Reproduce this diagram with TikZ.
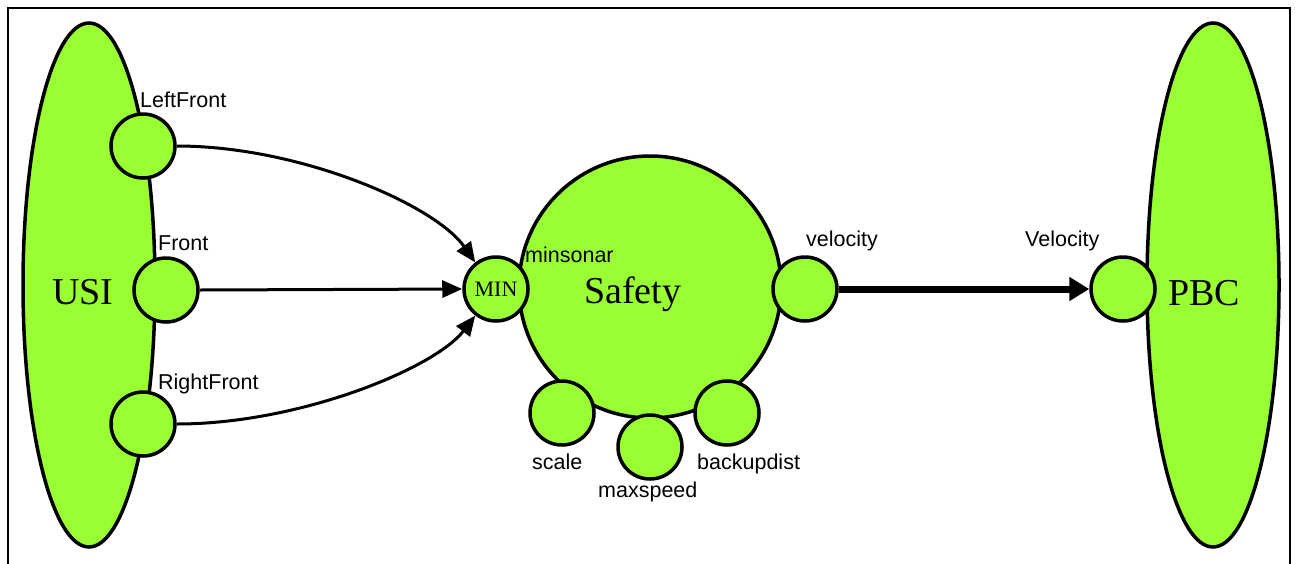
\documentclass[tikz,border=0pt]{standalone}
\usepackage{fontspec}
\setmainfont{Liberation Serif}
\setsansfont{Liberation Sans}
\usetikzlibrary{shapes.geometric,arrows.meta}
\definecolor{limefill}{HTML}{99FF33}
\begin{document}
\begin{tikzpicture}[x=1pt,y=-1pt,
  blob/.style={ellipse,draw,line width=3.5pt,fill=limefill,minimum width=132pt,minimum height=524pt,inner sep=0pt},
  port/.style={circle,draw,line width=3.5pt,fill=limefill,minimum size=64pt,inner sep=0pt},
  portlabel/.style={anchor=base west,inner sep=0pt,font=\sffamily\fontsize{21.5}{21.5}\selectfont},
  title/.style={anchor=base west,inner sep=0pt,font=\fontsize{38}{38}\selectfont},
  conn/.style={line width=3pt,-{Triangle[length=20pt,width=17pt]}},
  bus/.style={line width=7pt,-{Triangle[length=20pt,width=23pt]}}]
\useasboundingbox (0,0) rectangle (1297,563);
\fill[white] (0,0) rectangle (1297,563);
% frame
\draw[line width=2pt] (8,570) -- (8,8) -- (1290,8) -- (1290,570);

% components
\node[blob] (usi) at (89,285) {};
\node[blob] (pbc) at (1213,285) {};
\node[circle,draw,line width=3.5pt,fill=limefill,minimum size=262pt,inner sep=0pt] (safety) at (650,287) {};

% ports
\node[port] (lf) at (143,146) {};
\node[port] (fr) at (166,290) {};
\node[port] (rf) at (143,424) {};
\node[port,font=\fontsize{22}{22}\selectfont] (min) at (496,289) {MIN};
\node[port] (vel) at (805,289) {};
\node[port] (scl) at (562,413) {};
\node[port] (mxs) at (650,447) {};
\node[port] (bkd) at (727,413) {};
\node[port] (pv) at (1123,289) {};

% titles
\node[title] (usit) at (52,304) {USI};
\node[title] (saft) at (584,303) {Safety};
\node[title] (pbct) at (1168,305) {PBC};

% port labels
\node[portlabel] (lflab) at (140,107) {LeftFront};
\node[portlabel] (frlab) at (158,250) {Front};
\node[portlabel] (rflab) at (158,389) {RightFront};
\node[portlabel] (minlab) at (525,262) {minsonar};
\node[portlabel] (vellab) at (806,246) {velocity};
\node[portlabel] (pvlab) at (1025,246) {Velocity};
\node[portlabel] (scllab) at (532,469) {scale};
\node[portlabel] (bkdlab) at (697,469) {backupdist};
\node[portlabel] (mxslab) at (598,497) {maxspeed};

% connectors
\draw[conn] (fr.east) -- (min.west);
\draw[conn] (lf.east) .. controls (300,146) and (435,205) .. (min.128);
\draw[conn] (rf.east) .. controls (300,424) and (435,368) .. (min.232);
\draw[bus] (vel.east) -- (pv.west);
\end{tikzpicture}
\end{document}
